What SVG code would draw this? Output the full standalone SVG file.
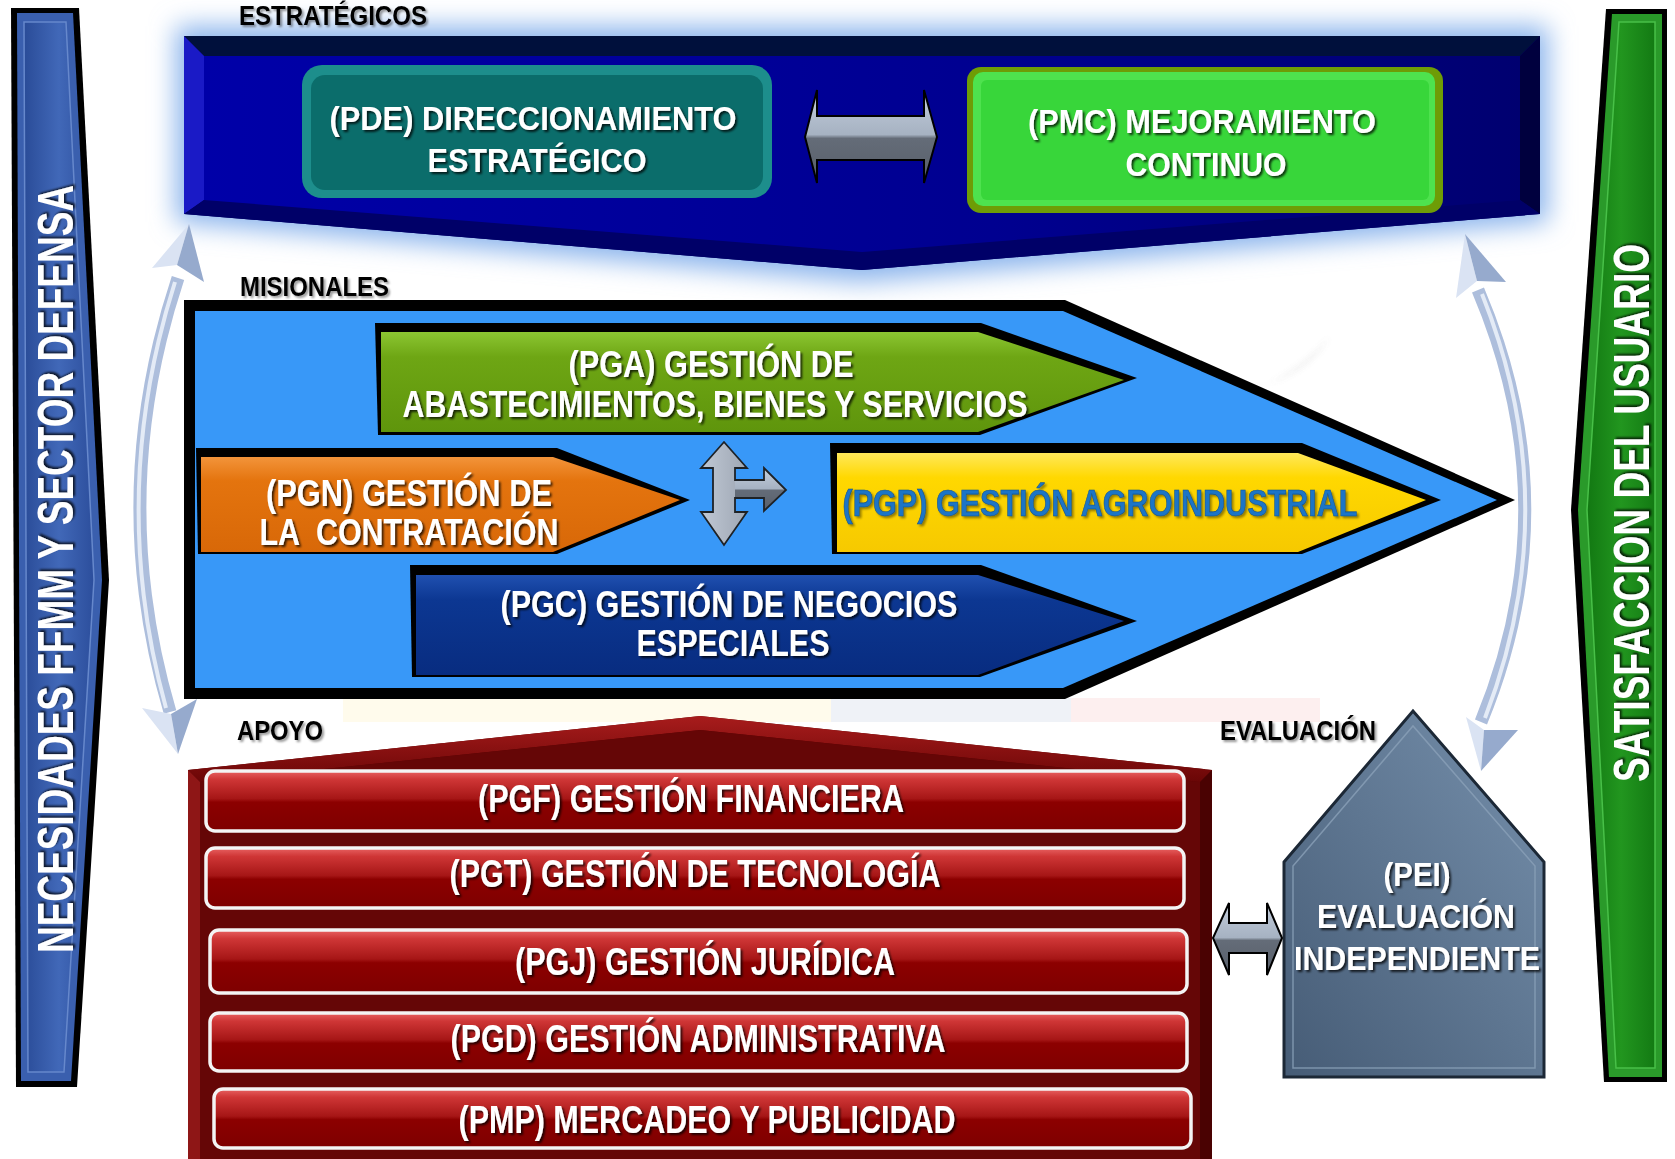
<svg xmlns="http://www.w3.org/2000/svg" width="1675" height="1159" viewBox="0 0 1675 1159">
<style>
.t{font-family:'Liberation Sans Narrow','Liberation Sans',Arial,sans-serif;font-weight:700;text-anchor:middle}
.w{fill:#ffffff;filter:url(#ts)}
.lbl{font-family:'Liberation Sans Narrow','Liberation Sans',Arial,sans-serif;font-weight:700;font-size:27px;fill:#000;filter:url(#ls)}
.bar{stroke:#f4f4f4;stroke-width:3.5;fill:url(#gRed)}
.shaft{fill:none;stroke:#adbedc;stroke-width:13;stroke-linecap:butt}
.shaftHi{fill:none;stroke:#e4ebf6;stroke-width:4}
.hA{fill:#dae3f3}
.hB{fill:#96aacd}
.dbl{fill:url(#gSteel);stroke:#000;stroke-width:2;stroke-linejoin:miter}
</style>
<defs>
<filter id="ts" x="-10%" y="-30%" width="120%" height="160%"><feDropShadow dx="2" dy="2" stdDeviation="1.2" flood-color="#000" flood-opacity="0.75"/></filter>
<filter id="ls" x="-10%" y="-30%" width="120%" height="160%"><feDropShadow dx="2" dy="2" stdDeviation="1.2" flood-color="#000" flood-opacity="0.4"/></filter>
<filter id="glow" x="-10%" y="-40%" width="120%" height="180%"><feGaussianBlur stdDeviation="13"/></filter>
<filter id="soft" x="-20%" y="-50%" width="140%" height="200%"><feGaussianBlur stdDeviation="3"/></filter>
<linearGradient id="gFace" x1="0" y1="0" x2="1" y2="0"><stop offset="0" stop-color="#0000a8"/><stop offset="0.6" stop-color="#000090"/><stop offset="1" stop-color="#000070"/></linearGradient>
<linearGradient id="gBlueBar" x1="0" y1="0" x2="1" y2="0"><stop offset="0" stop-color="#2a4c98"/><stop offset="0.5" stop-color="#4168b8"/><stop offset="1" stop-color="#2c4e9c"/></linearGradient>
<linearGradient id="gGreenBar" x1="0" y1="0" x2="1" y2="0"><stop offset="0" stop-color="#127812"/><stop offset="0.5" stop-color="#22961f"/><stop offset="1" stop-color="#137a13"/></linearGradient>
<linearGradient id="gRed" x1="0" y1="0" x2="0" y2="1"><stop offset="0" stop-color="#e86262"/><stop offset="0.14" stop-color="#cf3636"/><stop offset="0.46" stop-color="#a61616"/><stop offset="0.52" stop-color="#8c0000"/><stop offset="1" stop-color="#7e0000"/></linearGradient>
<linearGradient id="gRoof" x1="0" y1="0" x2="0" y2="1"><stop offset="0" stop-color="#a81c1c"/><stop offset="1" stop-color="#6a0606"/></linearGradient>
<linearGradient id="gGreen" x1="0" y1="0" x2="0" y2="1"><stop offset="0" stop-color="#8cc632"/><stop offset="0.25" stop-color="#6ea614"/><stop offset="1" stop-color="#5f950c"/></linearGradient>
<linearGradient id="gOrange" x1="0" y1="0" x2="0" y2="1"><stop offset="0" stop-color="#f3943a"/><stop offset="0.25" stop-color="#e4740e"/><stop offset="1" stop-color="#d86808"/></linearGradient>
<linearGradient id="gYellow" x1="0" y1="0" x2="0" y2="1"><stop offset="0" stop-color="#ffe85a"/><stop offset="0.25" stop-color="#ffd800"/><stop offset="1" stop-color="#f6c900"/></linearGradient>
<linearGradient id="gNavy" x1="0" y1="0" x2="0" y2="1"><stop offset="0" stop-color="#2050b0"/><stop offset="0.25" stop-color="#0c3792"/><stop offset="1" stop-color="#082c80"/></linearGradient>
<linearGradient id="gSteel" x1="0" y1="0" x2="0" y2="1"><stop offset="0" stop-color="#c4cedc"/><stop offset="0.48" stop-color="#a6b2c2"/><stop offset="0.52" stop-color="#646c78"/><stop offset="1" stop-color="#585f6a"/></linearGradient>
<linearGradient id="gSteelH" x1="0" y1="0" x2="1" y2="0"><stop offset="0" stop-color="#c0c8d4"/><stop offset="0.5" stop-color="#a0a9b6"/><stop offset="0.52" stop-color="#636b77"/><stop offset="1" stop-color="#5a616c"/></linearGradient>
<linearGradient id="gPEI" x1="0" y1="1" x2="1" y2="0"><stop offset="0" stop-color="#465c76"/><stop offset="1" stop-color="#7690ac"/></linearGradient>
</defs>

<rect width="1675" height="1159" fill="#ffffff"/>

<g id="watermark" opacity="0.9">
<rect x="343" y="698" width="488" height="24" fill="#fffbea"/>
<rect x="831" y="698" width="240" height="24" fill="#eef1f7"/>
<rect x="1071" y="698" width="249" height="24" fill="#fdeeee"/>
<path d="M1225,398 Q1295,382 1330,336 Q1305,378 1240,392 Z" fill="#cfcfcf" opacity="0.7" filter="url(#soft)"/>
</g>

<g id="necesidades">
<polygon points="11,8 79,8 109,580 77,1087 16,1087" fill="#000"/>
<polygon points="17,13 73,13 102,580 71,1081 21,1081" fill="#3a5fae"/>
<polygon points="24,22 66,22 94,580 64,1072 28,1072" fill="url(#gBlueBar)" stroke="#6688cc" stroke-width="1.5"/>
<text class="t w" transform="translate(73,569) rotate(-90)" font-size="50" textLength="768" lengthAdjust="spacingAndGlyphs">NECESIDADES FFMM Y SECTOR DEFENSA</text>
</g>
<g id="satisfaccion">
<polygon points="1606,9 1667,9 1667,1082 1604,1082 1571,510" fill="#000"/>
<polygon points="1612,14 1662,14 1662,1077 1609,1077 1578,510" fill="#2a9a2a"/>
<polygon points="1619,22 1655,22 1655,1068 1616,1068 1587,510" fill="url(#gGreenBar)" stroke="#48c048" stroke-width="1.5"/>
<text class="t w" transform="translate(1649,513) rotate(-90)" font-size="50" textLength="538" lengthAdjust="spacingAndGlyphs">SATISFACCION DEL USUARIO</text>
</g>

<g id="estrategicos">
<polygon points="176,26 1548,26 1548,222 862,282 176,222" fill="#8ab4ec" filter="url(#glow)"/>
<polygon points="184,36 1540,36 1540,214 862,270 184,214" fill="#00006c"/>
<polygon points="184,36 1540,36 1520,56 204,56" fill="#00103c"/>
<polygon points="184,36 204,56 204,200 184,214" fill="#1a1ac6"/>
<polygon points="1540,36 1540,214 1520,200 1520,56" fill="#00003e"/>
<polygon points="184,214 204,200 862,252 1520,200 1540,214 862,270" fill="#000068"/>
<polygon points="204,56 1520,56 1520,200 862,252 204,200" fill="url(#gFace)"/>
<text class="lbl" x="239" y="25" textLength="188" lengthAdjust="spacingAndGlyphs">ESTRATÉGICOS</text>
</g>
<g id="pde">
<rect x="302" y="65" width="470" height="133" rx="20" fill="#1d8e8c"/>
<rect x="311" y="75" width="452" height="115" rx="14" fill="#0b6d6b"/>
<text class="t w" x="533" y="130" font-size="33" textLength="407" lengthAdjust="spacingAndGlyphs">(PDE) DIRECCIONAMIENTO</text>
<text class="t w" x="537" y="172" font-size="33" textLength="219" lengthAdjust="spacingAndGlyphs">ESTRATÉGICO</text>
</g>
<g id="pmc">
<rect x="967" y="67" width="476" height="146" rx="14" fill="#6e9c06"/>
<rect x="973" y="72" width="462" height="134" rx="10" fill="#4ee24e"/>
<rect x="981" y="80" width="448" height="120" rx="6" fill="#38d63a"/>
<text class="t w" x="1202" y="133" font-size="33" textLength="348" lengthAdjust="spacingAndGlyphs">(PMC) MEJORAMIENTO</text>
<text class="t w" x="1206" y="176" font-size="33" textLength="161" lengthAdjust="spacingAndGlyphs">CONTINUO</text>
</g>

<g id="misionales">
<polygon points="184,300 1065,300 1515,500 1065,699 184,699" fill="#000"/>
<polygon points="195,311 1063,311 1497,500 1063,688 195,688" fill="#3898f8"/>
<text class="lbl" x="240" y="296" textLength="149" lengthAdjust="spacingAndGlyphs">MISIONALES</text>
</g>
<g id="pga">
<polygon points="375,323 981,323 1137,378 980,435 378,435" fill="#000"/>
<polygon points="381,332 978,332 1124,380 978,432 381,432" fill="url(#gGreen)"/>
<text class="t w" x="711" y="377" font-size="36" textLength="285" lengthAdjust="spacingAndGlyphs">(PGA) GESTIÓN DE</text>
<text class="t w" x="715" y="417" font-size="36" textLength="625" lengthAdjust="spacingAndGlyphs">ABASTECIMIENTOS, BIENES Y SERVICIOS</text>
</g>
<g id="pgn">
<polygon points="196,448 557,448 690,500 557,554 198,554" fill="#000"/>
<polygon points="201,457 553,457 680,500 553,552 201,552" fill="url(#gOrange)"/>
<text class="t w" x="409" y="506" font-size="36" textLength="286" lengthAdjust="spacingAndGlyphs">(PGN) GESTIÓN DE</text>
<text class="t w" x="409" y="545" font-size="36" textLength="299" lengthAdjust="spacingAndGlyphs" xml:space="preserve">LA  CONTRATACIÓN</text>
</g>
<g id="pgp">
<polygon points="830,443 1302,443 1441,500 1302,554 832,554" fill="#000"/>
<polygon points="837,453 1298,453 1426,500 1298,552 837,552" fill="url(#gYellow)"/>
<text class="t" x="1100" y="516" font-size="37" fill="#1c74c6" stroke="#15508a" stroke-width="0.6" filter="url(#ls)" textLength="515" lengthAdjust="spacingAndGlyphs">(PGP) GESTIÓN AGROINDUSTRIAL</text>
</g>
<g id="pgc">
<polygon points="410,565 981,565 1137,621 980,677 412,677" fill="#000"/>
<polygon points="416,575 978,575 1124,621 978,675 416,675" fill="url(#gNavy)"/>
<text class="t w" x="729" y="617" font-size="36" textLength="457" lengthAdjust="spacingAndGlyphs">(PGC) GESTIÓN DE NEGOCIOS</text>
<text class="t w" x="733" y="656" font-size="36" textLength="193" lengthAdjust="spacingAndGlyphs">ESPECIALES</text>
</g>

<g id="apoyo">
<polygon points="188,770 700,716 1212,770 1212,1159 188,1159" fill="#5e0404"/>
<polygon points="188,770 700,716 1212,770 1200,782 700,730 200,782" fill="url(#gRoof)"/>
<polygon points="188,770 200,782 200,1159 188,1159" fill="#8e1616"/>
<polygon points="1212,770 1212,1159 1200,1159 1200,782" fill="#4a0202"/>
<polygon points="200,782 700,730 1200,782 1200,1159 200,1159" fill="#650606"/>
<text class="lbl" x="237" y="740" textLength="86" lengthAdjust="spacingAndGlyphs">APOYO</text>
</g>
<g id="pgf">
<rect class="bar" x="206" y="771" width="978" height="60" rx="9"/>
<text class="t w" x="691" y="812" font-size="39" textLength="426" lengthAdjust="spacingAndGlyphs">(PGF) GESTIÓN FINANCIERA</text>
</g>
<g id="pgt">
<rect class="bar" x="206" y="848" width="978" height="60" rx="9"/>
<text class="t w" x="695" y="887" font-size="39" textLength="491" lengthAdjust="spacingAndGlyphs">(PGT) GESTIÓN DE TECNOLOGÍA</text>
</g>
<g id="pgj">
<rect class="bar" x="210" y="930" width="977" height="63" rx="9"/>
<text class="t w" x="705" y="975" font-size="39" textLength="380" lengthAdjust="spacingAndGlyphs">(PGJ) GESTIÓN JURÍDICA</text>
</g>
<g id="pgd">
<rect class="bar" x="210" y="1013" width="977" height="58" rx="9"/>
<text class="t w" x="698" y="1052" font-size="39" textLength="495" lengthAdjust="spacingAndGlyphs">(PGD) GESTIÓN ADMINISTRATIVA</text>
</g>
<g id="pmp">
<rect class="bar" x="214" y="1089" width="977" height="59" rx="9"/>
<text class="t w" x="707" y="1133" font-size="39" textLength="497" lengthAdjust="spacingAndGlyphs">(PMP) MERCADEO Y PUBLICIDAD</text>
</g>

<g id="pei">
<text class="lbl" x="1220" y="740" textLength="156" lengthAdjust="spacingAndGlyphs">EVALUACIÓN</text>
<polygon points="1284,862 1413,711 1544,862 1544,1077 1284,1077" fill="url(#gPEI)" stroke="#1c2836" stroke-width="3"/>
<polygon points="1293,866 1413,726 1535,866 1535,1068 1293,1068" fill="none" stroke="#8aa0b8" stroke-width="1.5" opacity="0.8"/>
<text class="t w" x="1417" y="886" font-size="33" textLength="67" lengthAdjust="spacingAndGlyphs">(PEI)</text>
<text class="t w" x="1416" y="928" font-size="33" textLength="198" lengthAdjust="spacingAndGlyphs">EVALUACIÓN</text>
<text class="t w" x="1417" y="970" font-size="33" textLength="246" lengthAdjust="spacingAndGlyphs">INDEPENDIENTE</text>
</g>

<g id="connectors">
<path class="dbl" d="M805,137 L817,90 L817,116 L924,116 L924,90 L937,137 L924,183 L924,160 L817,160 L817,183 Z"/>
<path class="dbl" d="M1213,938 L1229,903 L1229,923 L1267,923 L1267,903 L1282,938 L1267,975 L1267,953 L1229,953 L1229,975 Z"/>
<path d="M724,442 L747,468 L735,468 L735,480 L764,480 L764,468 L786,490 L764,511 L764,498 L735,498 L735,512 L747,512 L724,545 L701,512 L713,512 L713,468 L701,468 Z" fill="url(#gSteelH)"/>
<path d="M735,480 L764,480 L764,468 L786,490 L764,511 L764,498 L735,498 Z" fill="url(#gSteel)"/>
<path d="M724,442 L747,468 L735,468 L735,480 L764,480 L764,468 L786,490 L764,511 L764,498 L735,498 L735,512 L747,512 L724,545 L701,512 L713,512 L713,468 L701,468 Z" fill="none" stroke="#1e2226" stroke-width="1.8" stroke-linejoin="miter"/>
<path class="shaft" d="M178,278 Q106,495 170,712"/>
<path class="shaftHi" d="M175,282 Q107,495 166,708"/>
<polygon class="hA" points="189,224 152,268 177,265"/>
<polygon class="hB" points="189,224 177,265 204,282"/>
<polygon class="hA" points="178,754 142,708 171,714"/>
<polygon class="hB" points="178,754 171,714 197,699"/>
<path class="shaft" d="M1478,290 Q1570,506 1481,722"/>
<path class="shaftHi" d="M1482,294 Q1567,506 1485,718"/>
<polygon class="hA" points="1465,234 1456,298 1477,281"/>
<polygon class="hB" points="1465,234 1477,281 1506,282"/>
<polygon class="hA" points="1481,771 1466,717 1484,730"/>
<polygon class="hB" points="1481,771 1484,730 1518,730"/>
</g>
</svg>
